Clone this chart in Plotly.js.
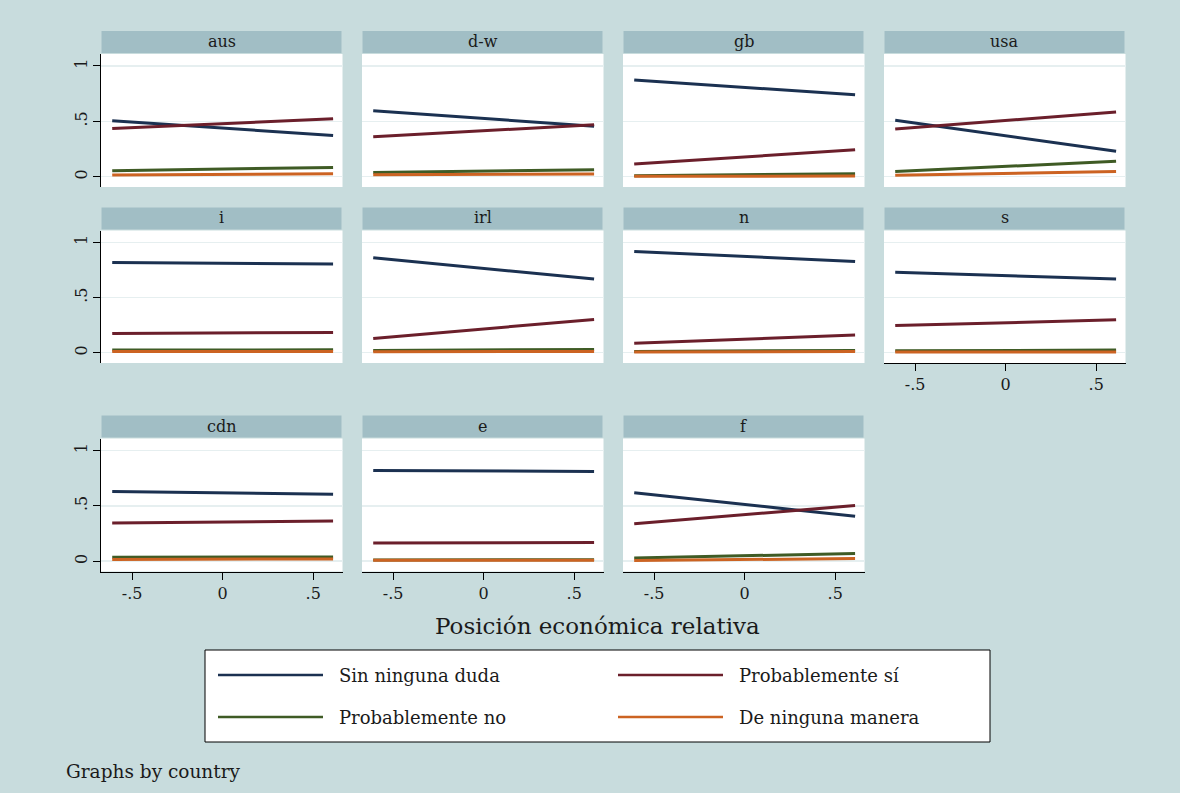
<!DOCTYPE html>
<html>
<head>
<meta charset="utf-8">
<script src="https://cdn.plot.ly/plotly-3.0.1.min.js"></script>
<style>html,body{margin:0;padding:0;background:#c8dcdd;}#chart{width:1180px;height:793px;}</style>
</head>
<body>
<div id="chart"></div>
<script>
// ---- data ----
const countries = ['aus','d-w','gb','usa','i','irl','n','s','cdn','e','f'];
const seriesNames = ['Sin ninguna duda','Probablemente sí','Probablemente no','De ninguna manera'];
const seriesColors = ['#1b3151','#6b1f2b','#3f5b25','#cc6322'];
const xValues = [-0.61, 0.61];
const xTickVals = [-0.5, 0, 0.5];
const xTickText = ['-.5','0','.5'];
const yTickVals = [0, 0.5, 1];
const yTickText = ['0','.5','1'];
const sinNingunaDuda = [[0.505,0.372],[0.595,0.456],[0.874,0.739],[0.509,0.230],[0.819,0.804],[0.861,0.668],[0.918,0.828],[0.729,0.669],[0.630,0.604],[0.820,0.811],[0.619,0.405]];
const probablementeSi = [[0.435,0.523],[0.360,0.470],[0.114,0.243],[0.430,0.585],[0.175,0.184],[0.130,0.302],[0.085,0.160],[0.246,0.298],[0.345,0.363],[0.165,0.168],[0.339,0.502]];
const probablementeNo = [[0.054,0.084],[0.039,0.063],[0.009,0.027],[0.048,0.139],[0.024,0.027],[0.021,0.030],[0.012,0.021],[0.018,0.024],[0.036,0.039],[0.011,0.013],[0.030,0.069]];
const deNingunaManera = [[0.015,0.027],[0.018,0.024],[0.003,0.006],[0.012,0.048],[0.012,0.012],[0.009,0.012],[0.006,0.012],[0.006,0.006],[0.015,0.021],[0.009,0.009],[0.006,0.024]];
const allSeries = [sinNingunaDuda, probablementeSi, probablementeNo, deNingunaManera];
const xTitle = 'Posición económica relativa';
const noteText = 'Graphs by country';

// ---- layout geometry (pixels) ----
const W = 1180, H = 793;
const FONT = 'DejaVu Serif, Liberation Serif, serif';
const cols = [[101,342.5],[362,603.5],[623,864.5],[884,1125.5]];
const rows = [[54,187],[230.5,363],[438.5,571.5]];
const px = v => v / W;
const py = v => 1 - v / H;
const bottomPanels = [7,8,9,10];

const traces = [];
const layout = {
  width: W, height: H,
  margin: {l:0, r:0, t:0, b:0},
  paper_bgcolor: '#c8dcdd',
  plot_bgcolor: '#ffffff',
  showlegend: false,
  font: {family: FONT, color: '#1a1a1a'},
  shapes: [], annotations: []
};

countries.forEach((c, i) => {
  const r = Math.floor(i / 4), k = i % 4;
  const n = i === 0 ? '' : String(i + 1);
  const xa = 'xaxis' + n, ya = 'yaxis' + n;
  const isBottom = bottomPanels.includes(i);
  const isLeft = k === 0;
  layout[xa] = {
    domain: [px(cols[k][0]), px(cols[k][1])],
    anchor: 'y' + n,
    range: [-0.672, 0.662],
    showgrid: false, zeroline: false,
    showline: isBottom, linecolor: '#000', linewidth: 1,
    ticks: isBottom ? 'outside' : '', ticklen: 7, tickcolor: '#000',
    tickvals: xTickVals, ticktext: xTickText,
    showticklabels: isBottom,
    tickfont: {family: FONT, size: 16, color: '#1a1a1a'},
    fixedrange: true
  };
  layout[ya] = {
    domain: [py(rows[r][1]), py(rows[r][0])],
    anchor: 'x' + n,
    range: [-0.093, 1.108],
    showgrid: true, gridcolor: '#e6eff0', gridwidth: 1.5,
    zeroline: false,
    showline: isLeft, linecolor: '#000', linewidth: 1,
    ticks: isLeft ? 'outside' : '', ticklen: 7, tickcolor: '#000',
    tickvals: yTickVals, ticktext: yTickText,
    showticklabels: isLeft, tickangle: -90,
    tickfont: {family: FONT, size: 16, color: '#1a1a1a'},
    fixedrange: true
  };
  // strip
  layout.shapes.push({type:'rect', xref:'paper', yref:'paper',
    x0: px(cols[k][0]+0.5), x1: px(cols[k][1]-1), y0: py(rows[r][0]-1), y1: py(rows[r][0]-23),
    fillcolor:'#a1bec5', line:{width:0}, layer:'below'});
  layout.annotations.push({xref:'paper', yref:'paper', x: px((cols[k][0]+cols[k][1])/2), y: py(rows[r][0]-12.5),
    text: c, showarrow:false, xanchor:'center', yanchor:'middle',
    font:{family: FONT, size: 16, color:'#1a1a1a'}});
  allSeries.forEach((s, j) => {
    traces.push({type:'scatter', mode:'lines', x: xValues, y: s[i],
      xaxis: 'x' + n, yaxis: 'y' + n, name: seriesNames[j],
      line: {color: seriesColors[j], width: 3}, hoverinfo: 'skip'});
  });
});

// x title
layout.annotations.push({xref:'paper', yref:'paper', x: px(597), y: py(626), text: xTitle,
  showarrow:false, xanchor:'center', yanchor:'middle', font:{family: FONT, size: 23, color:'#1a1a1a'}});

// custom legend box
layout.shapes.push({type:'rect', xref:'paper', yref:'paper', x0: px(205), x1: px(990), y0: py(650), y1: py(742),
  fillcolor:'#ffffff', line:{color:'#000', width:1}});
const legPos = [[218,675],[618,675],[218,717],[618,717]];
seriesNames.forEach((nm, j) => {
  const [lx, ly] = legPos[j];
  layout.shapes.push({type:'line', xref:'paper', yref:'paper', x0: px(lx), x1: px(lx+105), y0: py(ly), y1: py(ly),
    line:{color: seriesColors[j], width: 2.5}});
  layout.annotations.push({xref:'paper', yref:'paper', x: px(lx+119), y: py(ly), text: nm,
    showarrow:false, xanchor:'left', yanchor:'middle', font:{family: FONT, size: 18, color:'#1a1a1a'}});
});

// note
layout.annotations.push({xref:'paper', yref:'paper', x: px(64), y: py(771), text: noteText,
  showarrow:false, xanchor:'left', yanchor:'middle', font:{family: FONT, size: 18.5, color:'#1a1a1a'}});

Plotly.newPlot('chart', traces, layout, {staticPlot: true, displayModeBar: false});
</script>
</body>
</html>
